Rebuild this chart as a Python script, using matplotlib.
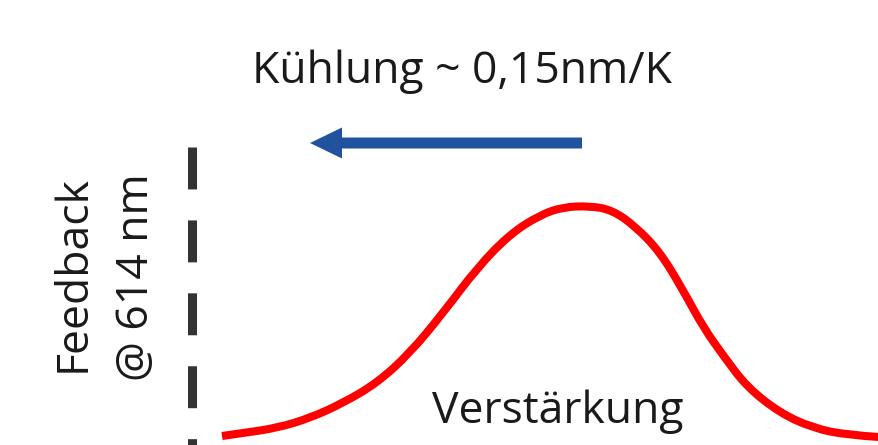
import matplotlib
matplotlib.use("Agg")
import matplotlib.pyplot as plt
from matplotlib.patches import FancyArrow, PathPatch
from matplotlib.path import Path

plt.rcParams['font.family'] = ['Open Sans', 'DejaVu Sans']
plt.rcParams['lines.scale_dashes'] = False

W, H = 879, 445

# gain profile (canvas pixel coordinates, y grows downward)
gain_x = [222, 243, 277, 310, 343, 377, 410, 443, 477, 510, 540, 563, 590,
          612, 635, 660, 683, 703, 725, 747, 780, 813, 847, 879]
gain_y = [436, 433, 428, 418, 403, 383, 353, 313, 268, 234, 215, 207, 206,
          210, 226, 252, 290, 327, 358, 387, 413, 428, 435, 437]

# feedback wavelength marker
feedback_x = [192, 192]
feedback_y = [147, 445]

# cooling shift arrow: start and end
arrow_x = [582, 310]
arrow_y = [143, 143]

title_text = "Kühlung ~ 0,15nm/K"
gain_label = "Verstärkung"
feedback_lines = ["Feedback", "@ 614 nm"]

fig = plt.figure(figsize=(W / 100, H / 100), dpi=100)
ax = fig.add_axes([0, 0, 1, 1])
ax.set_xlim(0, W)
ax.set_ylim(H, 0)
ax.axis('off')


def smooth_path(xs, ys):
    """Quadratic B-spline path using the points as control points."""
    pts = list(zip(xs, ys))
    verts = [pts[0]]
    codes = [Path.MOVETO]
    for i in range(1, len(pts) - 1):
        if i < len(pts) - 2:
            end = ((pts[i][0] + pts[i + 1][0]) / 2, (pts[i][1] + pts[i + 1][1]) / 2)
        else:
            end = pts[-1]
        verts += [pts[i], end]
        codes += [Path.CURVE3, Path.CURVE3]
    return Path(verts, codes)


ax.add_patch(PathPatch(smooth_path(gain_x, gain_y), facecolor='none',
                       edgecolor='#ff0000', lw=5.8, joinstyle='round',
                       capstyle='butt'))

ax.plot(feedback_x, feedback_y, color='#333333', lw=6.5,
        dashes=(30.2, 22.3), dash_capstyle='butt')

ax.add_patch(FancyArrow(arrow_x[0], arrow_y[0],
                        arrow_x[1] - arrow_x[0], arrow_y[1] - arrow_y[0],
                        width=11, head_width=31, head_length=32,
                        length_includes_head=True, color='#2152a0', lw=0))

fs = 32
ax.text(462, 83, title_text, fontsize=fs, color='#1a1a1a',
        ha='center', va='baseline')
ax.text(558, 423, gain_label, fontsize=fs, color='#1a1a1a',
        ha='center', va='baseline')
ax.text(85, 274, feedback_lines[0], fontsize=fs, color='#1a1a1a',
        ha='center', va='baseline', rotation=90, rotation_mode='anchor')
ax.text(148, 277, feedback_lines[1], fontsize=fs, color='#1a1a1a',
        ha='center', va='baseline', rotation=90, rotation_mode='anchor')

fig.savefig('out.png', dpi=100)
